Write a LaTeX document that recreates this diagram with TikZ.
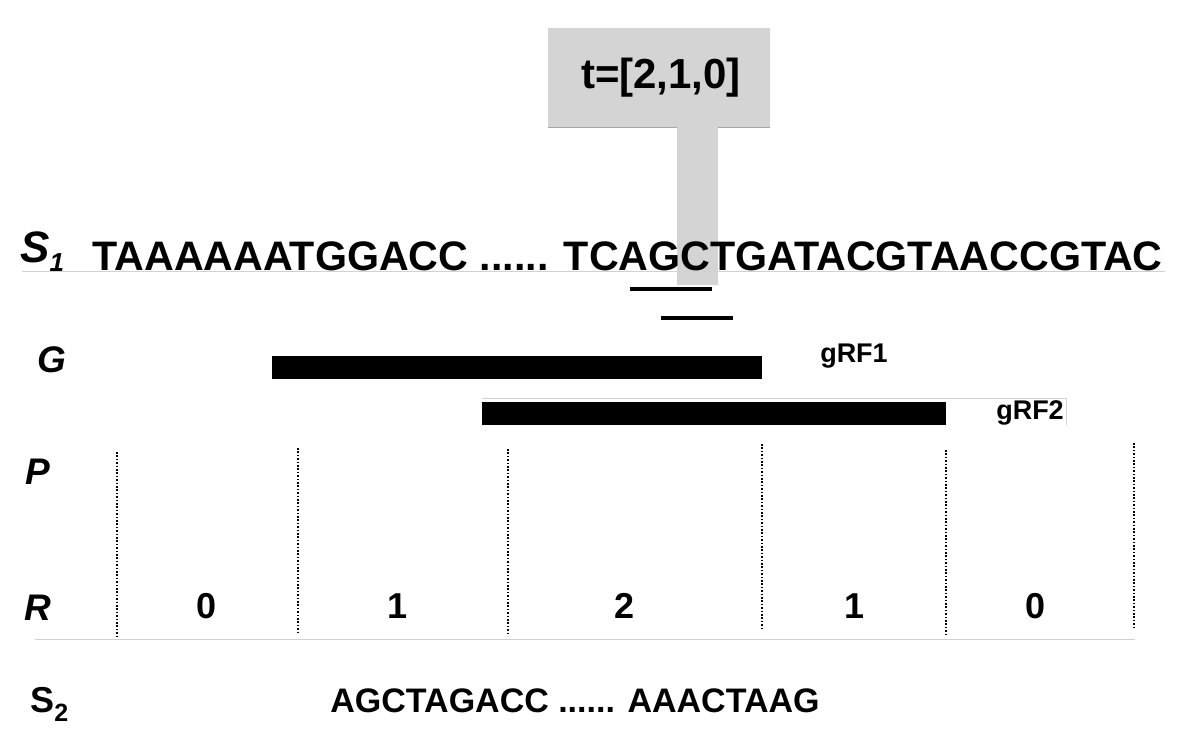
\documentclass[tikz,border=0pt]{standalone}
\usepackage{fontspec}
\setmainfont{Liberation Sans}
\begin{document}
\begin{tikzpicture}[x=0.5pt,y=-0.5pt,
  lab/.style={font=\bfseries\itshape\fontsize{18.5}{20}\selectfont, inner sep=0pt},
  seq/.style={font=\bfseries\fontsize{20.6}{22}\selectfont, inner sep=0pt},
  num/.style={font=\bfseries\fontsize{18}{20}\selectfont, inner sep=0pt},
  small/.style={font=\bfseries\fontsize{13.5}{15}\selectfont, inner sep=0pt},
  uline/.style={line width=2pt, black},
  sep/.style={line width=1.1pt, dash pattern=on 0.8pt off 0.9pt},
  rule/.style={line width=0.5pt, black!18},
  callout/.style={fill=black!17, draw=none}]
\useasboundingbox (0,0) rectangle (1200,752);
% callout
\fill[callout] (548,28) -- (770,28) -- (770,127) -- (718,127) -- (718,285) -- (677,285) -- (677,127) -- (548,127) -- cycle;
\draw[line width=0.5pt, black!35] (548,127) -- (677,127) (718,127) -- (770,127);
\node[seq, font=\bfseries\fontsize{21}{22}\selectfont] (t) at (661,78) {t=[2,1,0]};
% S1
\node[lab, font=\bfseries\itshape\fontsize{22}{23}\selectfont, anchor=base west] (s1) at (20,262) {S\raisebox{-0.4ex}{\fontsize{13}{14}\selectfont 1}};
\node[seq, anchor=base west] (seq1) at (92,270) {TAAAAAATGGACC ...... TCAGCTGATACGTAACCGTAC};
\draw[rule] (22,271) -- (1165,271);
\coordinate (u1a) at (630,289); \coordinate (u1b) at (712,289);
\coordinate (u2a) at (661,318); \coordinate (u2b) at (733,318);
\draw[uline] (u1a) -- (u1b);
\draw[uline] (u2a) -- (u2b);
% G
\node[lab, anchor=base west] (G) at (37,372) {G};
\fill[black] (272,356) rectangle (762,379);
\node[small] (g1) at (854,356) {gRF1};
\draw[rule] (482,398) -- (1066,398) -- (1066,425);
\fill[black] (482,402) rectangle (946,425);
\node[small] (g2) at (1030,413) {gRF2};
% P, R
\node[lab, anchor=base west] (P) at (25,484) {P};
\node[lab, anchor=base west] (R) at (24,620) {R};
\foreach \x/\a/\b in {117/452/638, 298/448/632, 508/449/636, 762/444/630, 946/450/635, 1134/443/628}{
  \coordinate (top\x) at (\x,\a); \coordinate (bot\x) at (\x,\b);
  \draw[sep] (top\x) -- (bot\x);
}
\draw[rule] (35,639) -- (1135,639);
\node[num] (r0) at (207,606) {0};
\node[num] (r1) at (398,606) {1};
\node[num] (r2) at (625,606) {2};
\node[num] (r3) at (855,606) {1};
\node[num] (r4) at (1035,606) {0};
% S2
\node[anchor=base west, inner sep=0pt, font=\bfseries\fontsize{18}{19}\selectfont] (s2) at (30,712) {S\raisebox{-0.5ex}{\fontsize{12.5}{13}\selectfont 2}};
\node[anchor=base west, inner sep=0pt, font=\bfseries\fontsize{17}{18}\selectfont] (seq2) at (330,712) {AGCTAGACC ...... AAACTAAG};
\end{tikzpicture}
\end{document}
